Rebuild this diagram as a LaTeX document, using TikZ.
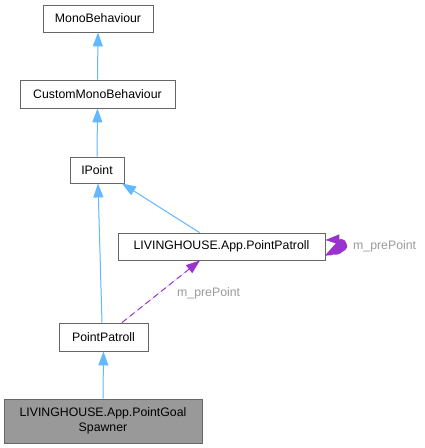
\documentclass[tikz,border=0pt]{standalone}
\usepackage{fontspec}
\setmainfont{Liberation Sans}
\usepackage{xcolor}
\usepackage{tikz}
\usetikzlibrary{arrows.meta,positioning,calc}
\definecolor{dgblue}{HTML}{63B8FF}
\definecolor{dgpurple}{HTML}{9A32CD}
\definecolor{dgedge}{HTML}{666666}
\definecolor{dgfocus}{HTML}{999999}
\definecolor{dglabel}{HTML}{9A9A9A}
\tikzset{
  dgclass/.style={draw=dgedge, fill=white, line width=0.9pt, align=center,
    inner sep=0pt, font=\fontsize{12.3}{14.5}\selectfont},
  dgfocusclass/.style={dgclass, fill=dgfocus},
  dginherit/.style={-{Triangle[length=14pt,width=10pt]}, line width=1pt, draw=dgblue, fill=dgblue},
  dguse/.style={-{Triangle[length=14pt,width=10pt]}, line width=1pt, draw=dgpurple,
    fill=dgpurple, dash pattern=on 6pt off 4pt},
  dgnote/.style={font=\fontsize{12.3}{14.5}\selectfont, text=dglabel, inner sep=0pt}
}
\begin{document}
\begin{tikzpicture}[x=1pt,y=-1pt]
  \useasboundingbox (0,0) rectangle (425,448);
  \node[dgclass, minimum width=110pt, minimum height=27pt] (mb) at (98,18.5) {MonoBehaviour};
  \node[dgclass, minimum width=155pt, minimum height=28pt] (cmb) at (97.5,94) {CustomMonoBehaviour};
  \node[dgclass, minimum width=54pt, minimum height=26pt] (ip) at (97,170) {IPoint};
  \node[dgclass, minimum width=207pt, minimum height=27pt] (lpp) at (221.5,246.5) {LIVINGHOUSE.App.PointPatroll};
  \node[dgclass, minimum width=89pt, minimum height=28pt] (pp) at (103.5,337) {PointPatroll};
  \node[dgfocusclass, minimum width=198pt, minimum height=44pt] (spw) at (103,421)
    {LIVINGHOUSE.App.PointGoal\\Spawner};
  % inheritance
  \draw[dginherit] (cmb.north) -- (mb.south);
  \draw[dginherit] (ip.north) -- (cmb.south);
  \draw[dginherit] ([xshift=-1.5pt]pp.north) -- ([xshift=1pt]ip.south);
  \draw[dginherit] ([xshift=-22pt]lpp.north) -- ([xshift=25pt]ip.south);
  \draw[dginherit] (spw.north) -- (pp.south);
  % usage
  \draw[dguse] ([xshift=18.5pt]pp.north) -- ([xshift=-21.5pt]lpp.south);
  \node[dgnote, anchor=west] (lbl1) at (177,293) {m\_prePoint};
  \draw[dguse] ([yshift=-8.5pt]lpp.east) .. controls (352,256) and (350,239) .. (340,239.5)
    -- ([yshift=6.5pt]lpp.east);
  \node[dgnote, anchor=west] (lbl2) at (353,246) {m\_prePoint};
\end{tikzpicture}
\end{document}
